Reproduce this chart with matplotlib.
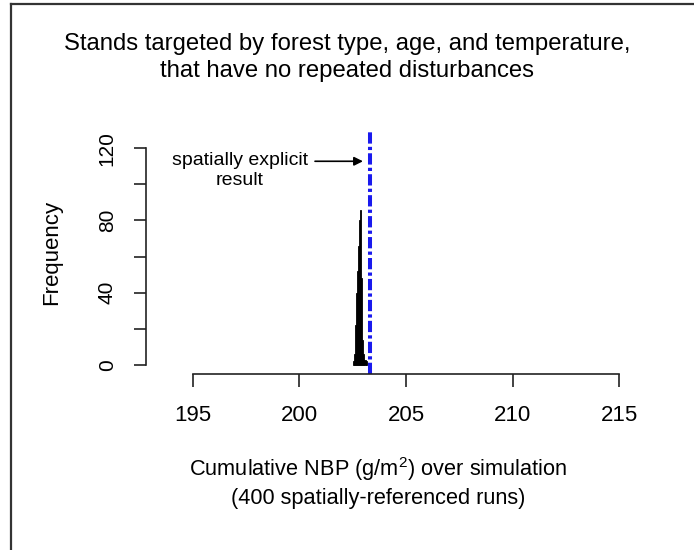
import numpy as np
import matplotlib
matplotlib.use("Agg")
import matplotlib.pyplot as plt
from matplotlib.lines import Line2D

plt.rcParams['font.family'] = ['Liberation Sans', 'DejaVu Sans']
plt.rcParams['mathtext.fontset'] = 'custom'
plt.rcParams['mathtext.rm'] = 'Liberation Sans'
plt.rcParams['mathtext.it'] = 'Liberation Sans:italic'

# histogram of cumulative NBP over the 400 runs
bin_edges = [202.50, 202.55, 202.60, 202.65, 202.70, 202.75, 202.80,
             202.85, 202.90, 202.95, 203.00, 203.05, 203.10, 203.15]
bin_counts = [2, 6, 22, 40, 52, 66, 80, 86, 48, 14, 6, 3, 2]

# spatially explicit result
explicit_value = 203.3

x_ticks = [195, 200, 205, 210, 215]
y_ticks = [0, 20, 40, 60, 80, 100, 120]
y_tick_labels = ['0', '', '40', '', '80', '', '120']

W, H = 694, 550
fig = plt.figure(figsize=(W / 100, H / 100), dpi=100)


def px(x, y):
    return x / W, 1 - y / H


# plot region in pixels
left, right, top, bottom = 146, 666, 130, 374
ax = fig.add_axes([left / W, 1 - bottom / H, (right - left) / W, (bottom - top) / H])

widths = np.diff(bin_edges)
ax.bar(bin_edges[:-1], bin_counts, width=widths, align='edge',
       color='black', edgecolor='black', linewidth=0.6)

ax.axvline(explicit_value, color='#1a1aee', linewidth=2.9,
           dashes=(2.8, 0.8, 0.8, 0.8))

ax.annotate('', xy=(202.98, 112.7), xytext=(200.73, 112.7),
            arrowprops=dict(arrowstyle='-|>', color='black', lw=1.2,
                            mutation_scale=13, shrinkA=0, shrinkB=0))
ax.text(197.2, 107.5, 'spatially explicit\nresult', ha='center', va='center',
        fontsize=14, linespacing=1.2)

ax.set_xlim(192.8, 217.2)
ax.set_ylim(-5, 130)
ax.set_xticks(x_ticks)
ax.set_xticklabels([str(t) for t in x_ticks])
ax.set_yticks(y_ticks)
ax.set_yticklabels(y_tick_labels, rotation=90, va='center')

for s in ['top', 'right']:
    ax.spines[s].set_visible(False)
ax.spines['left'].set_bounds(0, 120)
ax.spines['bottom'].set_bounds(195, 215)
for s in ['left', 'bottom']:
    ax.spines[s].set_linewidth(1.2)
    ax.spines[s].set_color('#222222')

ax.tick_params(axis='both', direction='out', length=9, width=1.2,
               color='#222222', labelsize=15, pad=12)
ax.tick_params(axis='x', labelsize=16, pad=13)

fig.text(*px(52, 252), 'Frequency', rotation=90, ha='center', va='center',
         fontsize=16)

fig.text(*px(347, 57.5), 'Stands targeted by forest type, age, and temperature,\n'
         'that have no repeated disturbances', ha='center', va='center',
         fontsize=17.2, linespacing=1.28)

fig.text(*px(378, 482), 'Cumulative NBP (g/m$^{2}$) over simulation\n'
         '(400 spatially-referenced runs)', ha='center', va='center',
         fontsize=15.7, linespacing=1.3)

# outer frame
fig.add_artist(Line2D([11 / W, 11 / W], [0, 1 - 4 / H], transform=fig.transFigure,
                      color='#333333', linewidth=1.6))
fig.add_artist(Line2D([11 / W, 1], [1 - 4 / H, 1 - 4 / H], transform=fig.transFigure,
                      color='#333333', linewidth=1.6))

fig.savefig('out.png', dpi=100)
